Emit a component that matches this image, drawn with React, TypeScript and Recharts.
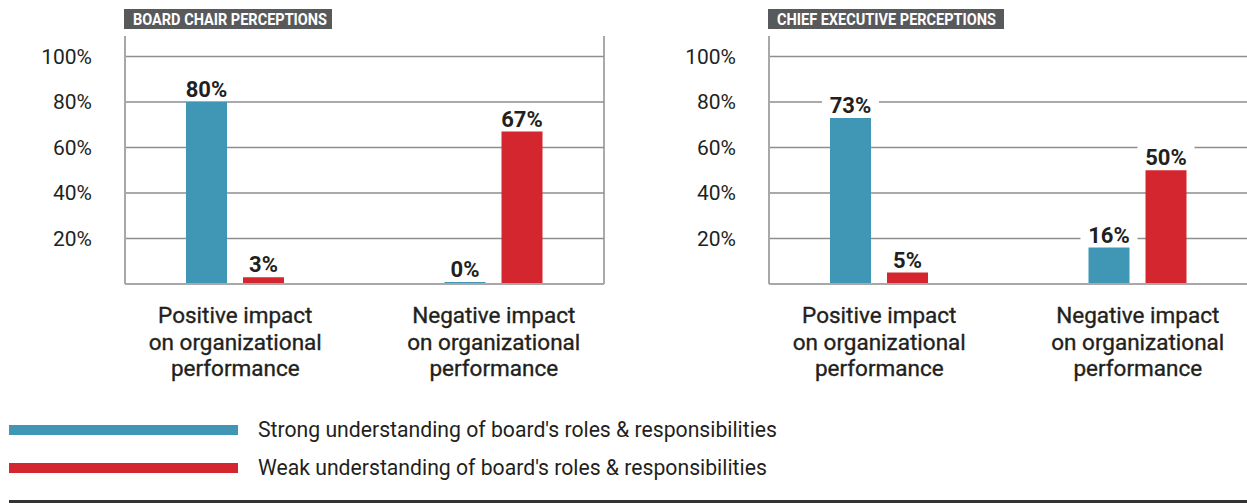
import React from "react";
import { BarChart, Bar, XAxis, YAxis, CartesianGrid, LabelList } from "recharts";

// categories (one tick label each, lines split on \n)
const categories = [
  "Positive impact\non organizational\nperformance",
  "Negative impact\non organizational\nperformance",
];

// board chair panel
const chairStrong = [80, 0];
const chairWeak = [3, 67];

// chief executive panel
const ceoStrong = [73, 16];
const ceoWeak = [5, 50];

const yTicks = [20, 40, 60, 80, 100];
const Y_MAX = 109;

const legendLabels = [
  "Strong understanding of board's roles & responsibilities",
  "Weak understanding of board's roles & responsibilities",
];

const BLUE = "#4097b5";
const RED = "#d4262e";
const INK = "#231f20";
const FONT = "Roboto, sans-serif";

function CategoryTick(props: any) {
  const { x, y, payload } = props;
  const lines = String(payload.value).split("\n");
  return (
    <text
      x={x}
      y={y}
      textAnchor="middle"
      fill={INK}
      fontSize={22.5}
      fontWeight={400}
      fontFamily={FONT}
      stroke={INK}
      strokeWidth={0.35}
    >
      {lines.map((line, i) => (
        <tspan key={i} x={x} dy={i === 0 ? 39 : 26.5}>
          {line}
        </tspan>
      ))}
    </text>
  );
}

function ValueLabel(props: any) {
  const x = Number(props.x);
  const y = Number(props.y);
  const width = Number(props.width);
  const text = `${props.value}%`;
  const cx = x + width / 2;
  const w = String(props.value).length * 12.5 + 32;
  return (
    <g>
      <rect x={cx - w / 2} y={y - 27} width={w} height={22} fill="#fff" />
      <text
        x={cx}
        y={y - 5}
        textAnchor="middle"
        fill={INK}
        fontSize={22}
        fontWeight={700}
        fontFamily={FONT}
      >
        {text}
      </text>
    </g>
  );
}

function Panel({ strong, weak }: { strong: number[]; weak: number[] }) {
  const data = categories.map((cat, i) => ({
    cat,
    strong: strong[i],
    weak: weak[i],
  }));

  return (
    <BarChart
      width={620}
      height={400}
      data={data}
      margin={{ top: 36, right: 16, bottom: 0, left: 0 }}
      barGap={16}
    >
      <CartesianGrid
        stroke="#8e8e8e"
        strokeWidth={1.5}
        horizontalCoordinatesGenerator={({ offset }: any) =>
          yTicks.map((t) => offset.top + offset.height * (1 - t / Y_MAX))
        }
        verticalCoordinatesGenerator={({ offset }: any) => [
          offset.left + offset.width,
        ]}
      />
      <XAxis
        dataKey="cat"
        interval={0}
        height={116}
        padding={{ left: -19, right: -19 }}
        tickLine={false}
        tickSize={0}
        tickMargin={0}
        axisLine={{ stroke: "#a8a8a8", strokeWidth: 2 }}
        tick={<CategoryTick />}
      />
      <YAxis
        width={125}
        domain={[0, Y_MAX]}
        ticks={yTicks}
        interval={0}
        tickFormatter={(v: number) => `${v}%`}
        tickLine={false}
        tickSize={0}
        tickMargin={33}
        axisLine={{ stroke: "#a8a8a8", strokeWidth: 2 }}
        tick={{ fill: INK, fontSize: 21, fontFamily: FONT }}
      />
      <Bar
        dataKey="strong"
        fill={BLUE}
        barSize={41}
        minPointSize={2}
        isAnimationActive={false}
      >
        <LabelList dataKey="strong" content={<ValueLabel />} />
      </Bar>
      <Bar
        dataKey="weak"
        fill={RED}
        barSize={41}
        minPointSize={2}
        isAnimationActive={false}
      >
        <LabelList dataKey="weak" content={<ValueLabel />} />
      </Bar>
    </BarChart>
  );
}

function TitleTag({
  text,
  left,
  width,
  textWidth,
}: {
  text: string;
  left: number;
  width: number;
  textWidth: number;
}) {
  return (
    <svg
      style={{ position: "absolute", left, top: 9, overflow: "visible" }}
      width={width + 60}
      height={20}
    >
      <rect width={width} height={20} fill="#58595b" />
      <text
        x={9}
        y={16.2}
        fill="#fff"
        fontSize={16}
        fontWeight={700}
        fontFamily={FONT}
        textLength={textWidth}
        lengthAdjust="spacingAndGlyphs"
      >
        {text}
      </text>
    </svg>
  );
}

export default function App() {
  const colors = [BLUE, RED];
  return (
    <div
      style={{
        position: "absolute",
        left: 0,
        top: 0,
        width: 1247,
        height: 503,
        overflow: "hidden",
        background: "#fff",
        fontFamily: FONT,
      }}
    >
      <div style={{ position: "absolute", left: 0, top: 0 }}>
        <Panel strong={chairStrong} weak={chairWeak} />
      </div>
      <div style={{ position: "absolute", left: 644, top: 0 }}>
        <Panel strong={ceoStrong} weak={ceoWeak} />
      </div>

      <TitleTag text="BOARD CHAIR PERCEPTIONS" left={124} width={208} textWidth={194} />
      <TitleTag text="CHIEF EXECUTIVE PERCEPTIONS" left={768} width={236} textWidth={219} />

      {legendLabels.map((label, i) => (
        <div key={label}>
          <div
            style={{
              position: "absolute",
              left: 9,
              top: 425 + i * 37.5,
              width: 229,
              height: 10,
              background: colors[i],
            }}
          />
          <div
            style={{
              position: "absolute",
              left: 258,
              top: 419 + i * 37.5,
              height: 22,
              lineHeight: "22px",
              fontSize: 21.2,
              color: INK,
              whiteSpace: "nowrap",
            }}
          >
            {label}
          </div>
        </div>
      ))}

      <div
        style={{
          position: "absolute",
          left: 9,
          top: 500,
          width: 1238,
          height: 3,
          background: "#333",
        }}
      />
    </div>
  );
}
